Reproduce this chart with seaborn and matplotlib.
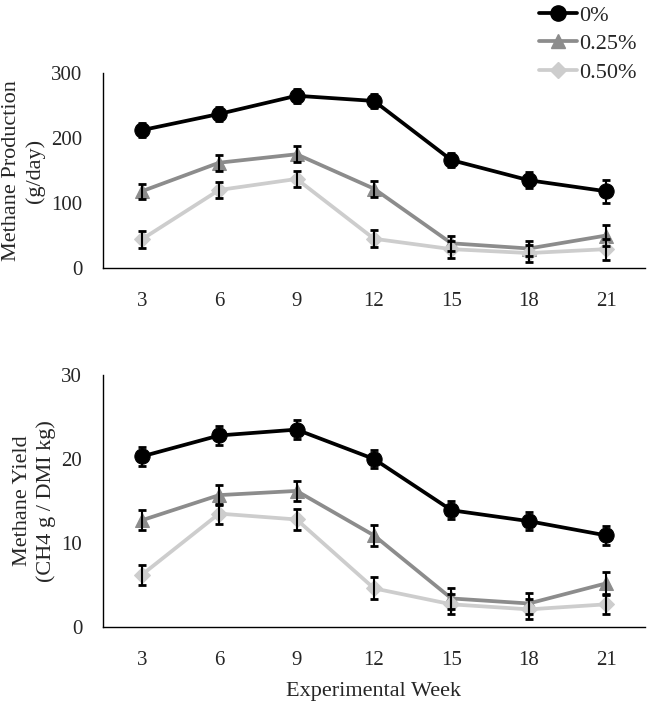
import numpy as np
import pandas as pd
import matplotlib
matplotlib.use("Agg")
import matplotlib.pyplot as plt
import seaborn as sns
from matplotlib.lines import Line2D

weeks = ["3", "6", "9", "12", "15", "18", "21"]
treatments = ["0%", "0.25%", "0.50%"]

prod_0 = [212, 237, 265, 257, 166, 135, 118]
prod_025 = [118, 162, 175, 122, 38, 30, 50]
prod_050 = [44, 120, 137, 45, 29, 23, 29]
prod_err_0 = [11, 11, 11, 11, 11, 12, 18]
prod_err_025 = [12, 12, 12, 12, 12, 12, 16]
prod_err_050 = [13, 13, 13, 13, 13, 13, 16]

yield_0 = [20.3, 22.8, 23.5, 20.0, 13.9, 12.6, 10.9]
yield_025 = [12.7, 15.7, 16.2, 10.9, 3.4, 2.8, 5.2]
yield_050 = [6.2, 13.5, 12.8, 4.6, 2.7, 2.1, 2.7]
yield_err_0 = [1.1, 1.1, 1.1, 1.1, 1.1, 1.1, 1.1]
yield_err_025 = [1.2, 1.2, 1.2, 1.2, 1.2, 1.2, 1.4]
yield_err_050 = [1.2, 1.2, 1.2, 1.3, 1.2, 1.2, 1.2]

colors = ["#000000", "#8c8c8c", "#cdcdcd"]
markers = ["o", "^", "D"]
msizes = [11, 10, 8]

sns.set_theme(style="white")
plt.rcParams["font.family"] = ["Liberation Serif", "DejaVu Serif"]

fig = plt.figure(figsize=(6.66, 7.01), dpi=100)
ax1 = fig.add_axes([103/666, 1-268/701, (645-103)/666, (268-73)/701])
ax2 = fig.add_axes([103/666, 1-627/701, (645-103)/666, (627-375)/701])

def draw(ax, series, errs, ylim, yticks, ylabel):
    rows = []
    for t, vals in zip(treatments, series):
        for w, v in zip(weeks, vals):
            rows.append({"week": w, "value": v, "treatment": t})
    df = pd.DataFrame(rows)
    for i, t in enumerate(treatments):
        sub = df[df["treatment"] == t]
        sns.lineplot(data=sub, x="week", y="value", ax=ax, color=colors[i],
                     marker=markers[i], markersize=msizes[i], linewidth=2.7,
                     markeredgecolor=colors[i], sort=False, legend=False, zorder=2)
        ax.errorbar(np.arange(len(weeks)), series[i], yerr=errs[i], fmt="none",
                    ecolor="black", elinewidth=1.5, capsize=3, capthick=2, zorder=3)
    ax.set_xlim(-0.5, 6.5)
    ax.set_ylim(*ylim)
    ax.set_yticks(yticks)
    ax.set_xlabel("")
    ax.set_ylabel(ylabel, fontsize=16, linespacing=1.3, labelpad=4)
    ax.tick_params(axis="both", labelsize=15, length=0)
    ax.tick_params(axis="x", pad=17)
    ax.tick_params(axis="y", pad=15)
    for s in ["top", "right"]:
        ax.spines[s].set_visible(False)
    for s in ["left", "bottom"]:
        ax.spines[s].set_color("black")
        ax.spines[s].set_linewidth(1.0)

draw(ax1, [prod_0, prod_025, prod_050], [prod_err_0, prod_err_025, prod_err_050],
     (0, 300), [0, 100, 200, 300], "Methane Production\n(g/day)")
draw(ax2, [yield_0, yield_025, yield_050], [yield_err_0, yield_err_025, yield_err_050],
     (0, 30), [0, 10, 20, 30], "Methane Yield\n(CH4 g / DMI kg)")
ax2.set_xlabel("Experimental Week", fontsize=16, labelpad=9)

handles = [Line2D([0], [0], color=colors[i], marker=markers[i], markersize=msizes[i],
                  linewidth=2.7) for i in range(3)]
fig.legend(handles, treatments, loc="upper left", bbox_to_anchor=(530/666, 1.005),
           frameon=False, fontsize=16, handlelength=1.7, handletextpad=0.1,
           labelspacing=0.35, borderaxespad=0)

fig.savefig("out.png", dpi=100)
